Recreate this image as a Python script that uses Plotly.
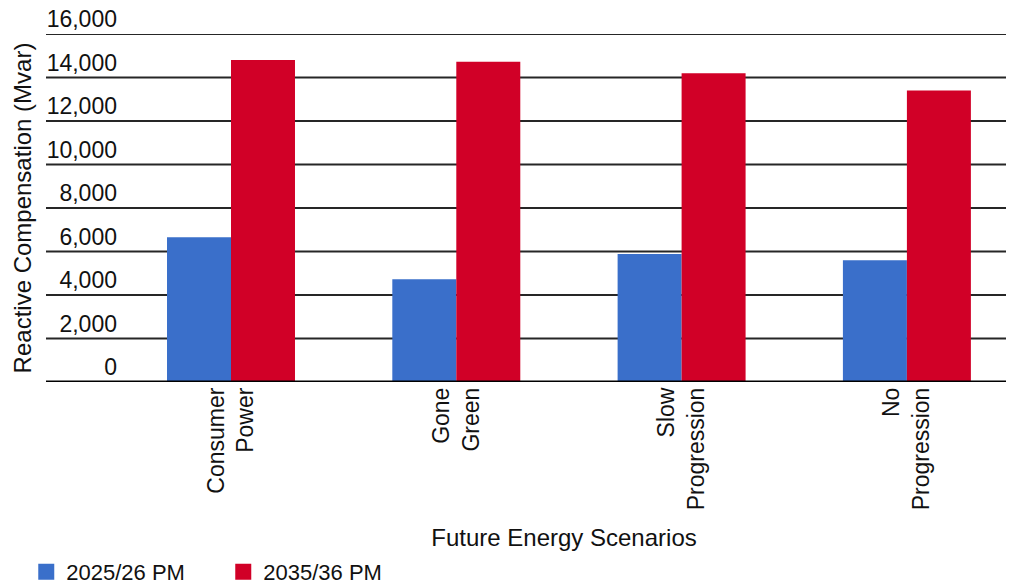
import plotly.graph_objects as go

categories = ["Consumer<br>Power", "Gone<br>Green", "Slow<br>Progression", "No<br>Progression"]
series_names = ["2025/26 PM", "2035/36 PM"]
values_2025 = [6650, 4720, 5880, 5600]
values_2035 = [14800, 14720, 14200, 13400]
y_ticks = [0, 2000, 4000, 6000, 8000, 10000, 12000, 14000, 16000]
y_tick_labels = ["0", "2,000", "4,000", "6,000", "8,000", "10,000", "12,000", "14,000", "16,000"]
colors = ["#3A6FCA", "#D10027"]

FONT = "Liberation Sans, Arial, sans-serif"
TXT = "#111111"

W, H = 1010, 586
ML, MR, MT, MB = 122, 4, 34, 204
plot_w = W - ML - MR

fig = go.Figure()
xs = list(range(len(categories)))
for name, vals, col in zip(series_names, [values_2025, values_2035], colors):
    fig.add_trace(go.Bar(x=xs, y=vals, name=name, marker=dict(color=col, line=dict(width=0)),
                         showlegend=False))
    # legend proxy with larger square symbol
    fig.add_trace(go.Scatter(x=[None], y=[None], mode="markers", name=name,
                             marker=dict(symbol="square", size=19, color=col)))

# gridlines, extended to the left under the tick labels
left_ext = -(ML - 46) / plot_w
for v in y_ticks:
    fig.add_shape(type="line", xref="paper", yref="y", x0=left_ext, x1=1,
                  y0=v, y1=v,
                  line=dict(color="#000000" if v == 0 else "#262626", width=3 if v == 0 else 1.9),
                  layer="above" if v == 0 else "below")

spacing_px = 225.3
r0 = -(231 - ML) / spacing_px
r1 = r0 + plot_w / spacing_px

fig.update_layout(
    width=W, height=H,
    margin=dict(l=ML, r=MR, t=MT, b=MB),
    paper_bgcolor="white", plot_bgcolor="white",
    barmode="group", bargap=0.432, bargroupgap=0,
    font=dict(family=FONT, size=23, color=TXT),
    showlegend=True,
    legend=dict(orientation="h", xref="container", yref="container", x=0.026, y=0.024,
                xanchor="left", yanchor="middle", entrywidth=152, entrywidthmode="pixels",
                font=dict(family=FONT, size=22, color=TXT), bgcolor="rgba(0,0,0,0)",
                itemclick=False),
    xaxis=dict(
        range=[r0, r1], tickmode="array", tickvals=xs, ticktext=categories,
        tickangle=-90, showgrid=False, zeroline=False, showline=False, ticks="",
        tickfont=dict(family=FONT, size=23, color=TXT),
        title=dict(text="Future Energy Scenarios", font=dict(family=FONT, size=24, color=TXT),
                   standoff=23),
        automargin=False,
    ),
    yaxis=dict(
        range=[0, 16000], tickmode="array", tickvals=y_ticks, ticktext=y_tick_labels,
        showgrid=False, zeroline=False,
        showline=False, ticks="", ticklabelshift=-15, ticklabelstandoff=4,
        tickfont=dict(family=FONT, size=23, color=TXT),
        title=dict(text="Reactive Compensation (Mvar)", font=dict(family=FONT, size=24, color=TXT),
                   standoff=8),
        automargin=False,
    ),
)

fig.write_html("out.html")
